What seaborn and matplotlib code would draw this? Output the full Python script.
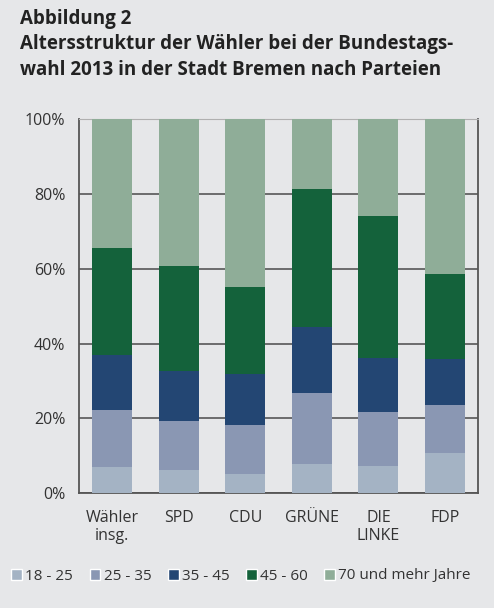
import matplotlib
matplotlib.use("Agg")
import matplotlib.pyplot as plt
import seaborn as sns
import pandas as pd
import numpy as np
from matplotlib.patches import Patch

# Daten (Anteile in %, von unten nach oben)
parteien = ["Wähler\ninsg.", "SPD", "CDU", "GRÜNE", "DIE\nLINKE", "FDP"]
gruppen = ["18 - 25", "25 - 35", "35 - 45", "45 - 60", "70 und mehr Jahre"]
a18_25 = [7.1, 6.2, 5.2, 7.8, 7.3, 10.8]
a25_35 = [15.2, 13.1, 13.1, 19.0, 14.4, 12.8]
a35_45 = [14.7, 13.4, 13.6, 17.5, 14.5, 12.3]
a45_60 = [28.6, 28.1, 23.2, 37.0, 37.9, 22.7]
a70 = [34.4, 39.2, 44.9, 18.7, 25.9, 41.4]
farben = ["#a4b3c4", "#8a97b3", "#234673", "#14623b", "#8fad98"]

bg = "#e6e7e9"
sns.set_style("white")
plt.rcParams["font.family"] = ["Open Sans", "DejaVu Sans"]

df = pd.DataFrame({"Partei": parteien, gruppen[0]: a18_25, gruppen[1]: a25_35,
                   gruppen[2]: a35_45, gruppen[3]: a45_60, gruppen[4]: a70})
kum = df[gruppen].cumsum(axis=1)

fig = plt.figure(figsize=(4.94, 6.08), dpi=100, facecolor=bg)
ax = fig.add_axes([0.16, 0.189, 0.808, 0.615])
ax.set_facecolor(bg)

# gestapelt: von oben nach unten überzeichnen
for g, c in reversed(list(zip(gruppen, farben))):
    sns.barplot(x=df["Partei"], y=kum[g], color=c, width=0.6, saturation=1,
                linewidth=0, edgecolor=c, ax=ax, zorder=3)

ax.set_ylim(0, 100)
ax.set_xlim(-0.5, 5.5)
ax.set_yticks(range(0, 101, 20))
ax.set_yticklabels([f"{v}%" for v in range(0, 101, 20)])
ax.yaxis.grid(True, color="#4a4a4a", linewidth=1.1, zorder=0)
ax.set_axisbelow(True)
ax.set_xlabel("")
ax.set_ylabel("")
ax.tick_params(axis="both", length=0, labelsize=11.5, labelcolor="#333333")
ax.tick_params(axis="x", pad=12)
ax.tick_params(axis="y", pad=10)
for s in ["left", "right", "bottom"]:
    ax.spines[s].set_color("#555555")
    ax.spines[s].set_linewidth(1.3)
ax.spines["top"].set_color("#b0b0b0")

fig.text(0.04, 0.985, "Abbildung 2\nAltersstruktur der Wähler bei der Bundestags-\nwahl 2013 in der Stadt Bremen nach Parteien",
         ha="left", va="top", fontsize=13.5, fontweight="bold", color="#222222",
         linespacing=1.35)

handles = [Patch(facecolor=c, label=g) for g, c in zip(gruppen, farben)]
fig.legend(handles=handles, loc="center", bbox_to_anchor=(0.488, 1 - 576 / 608),
           ncol=5, frameon=False, fontsize=11, handlelength=0.7, handleheight=0.7,
           handletextpad=0.2, columnspacing=1.1, labelcolor="#333333")

fig.savefig("out.png", dpi=100, facecolor=bg)
